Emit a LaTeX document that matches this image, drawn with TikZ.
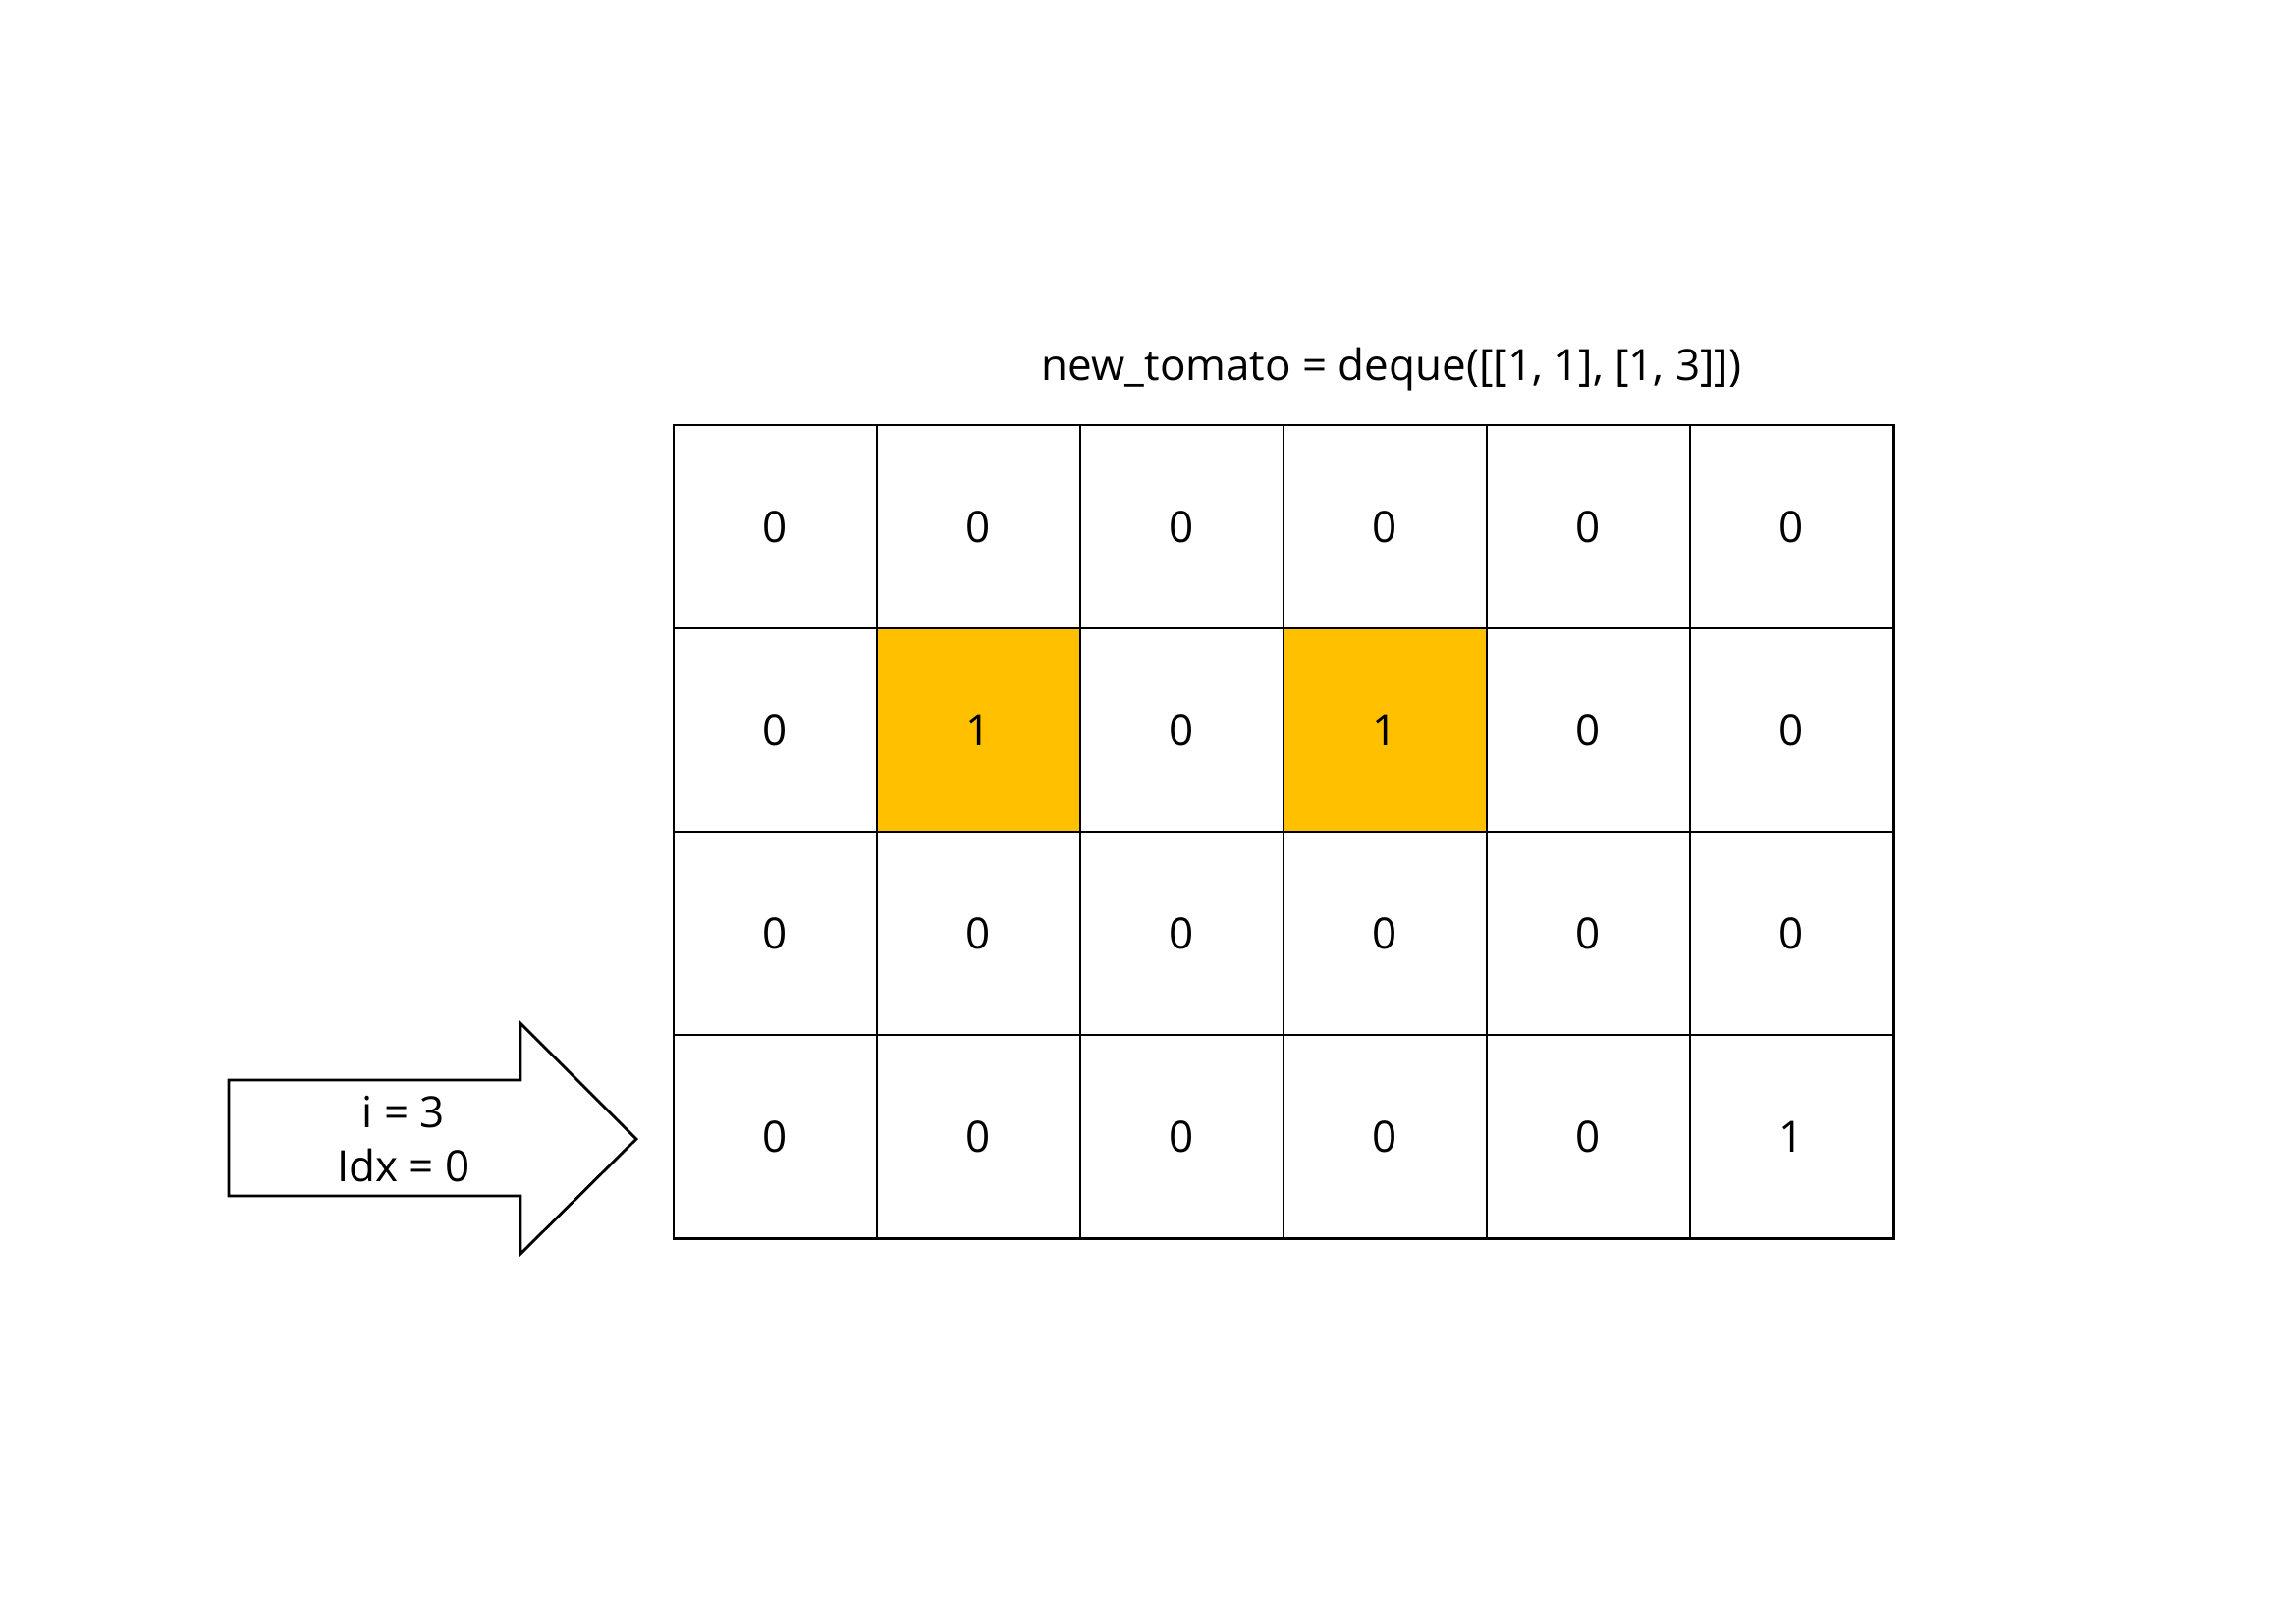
\documentclass[tikz,border=0pt]{standalone}
\usepackage{fontspec}
\setmainfont{Open Sans}
\usetikzlibrary{positioning}
\definecolor{ripeyellow}{HTML}{FFC000}

\begin{document}
\begin{tikzpicture}[
    x=0.01cm, y=-0.01cm,
    cell/.style={rectangle, draw, line width=0.8pt, minimum size=2.07cm, inner sep=0pt, font=\fontsize{12.5}{15.4}\selectfont},
    txt/.style={font=\fontsize{12.5}{15.4}\selectfont, align=center, inner sep=0pt},
    bigarrow/.style={draw, line width=0.8pt, fill=white}
]
\useasboundingbox (0,0) rectangle (2337,1653);

% Title
\node[txt] (title) at (1417,376) {new\_tomato = deque([[1, 1], [1, 3]])};

% Ripe tomatoes
\foreach \c in {1,3}
    \fill[ripeyellow] ({686+207*\c},640) rectangle +(207,207);

% Box
\foreach \rowvals [count=\r from 0] in {{0,0,0,0,0,0},{0,1,0,1,0,0},{0,0,0,0,0,0},{0,0,0,0,0,1}}
    \foreach \v [count=\c from 0] in \rowvals
        \node[cell] (cell-\r-\c) at ({686+207*(\c+0.5)},{433+207*(\r+0.5)}) {\v};

% Pointer
\draw[bigarrow] (233,1100) -- (530,1100) -- (530,1042) -- (648,1160)
    -- (530,1277) -- (530,1218) -- (233,1218) -- cycle;
\node[txt] (idx) at (411,1160) {i = 3\\Idx = 0};

\end{tikzpicture}
\end{document}
